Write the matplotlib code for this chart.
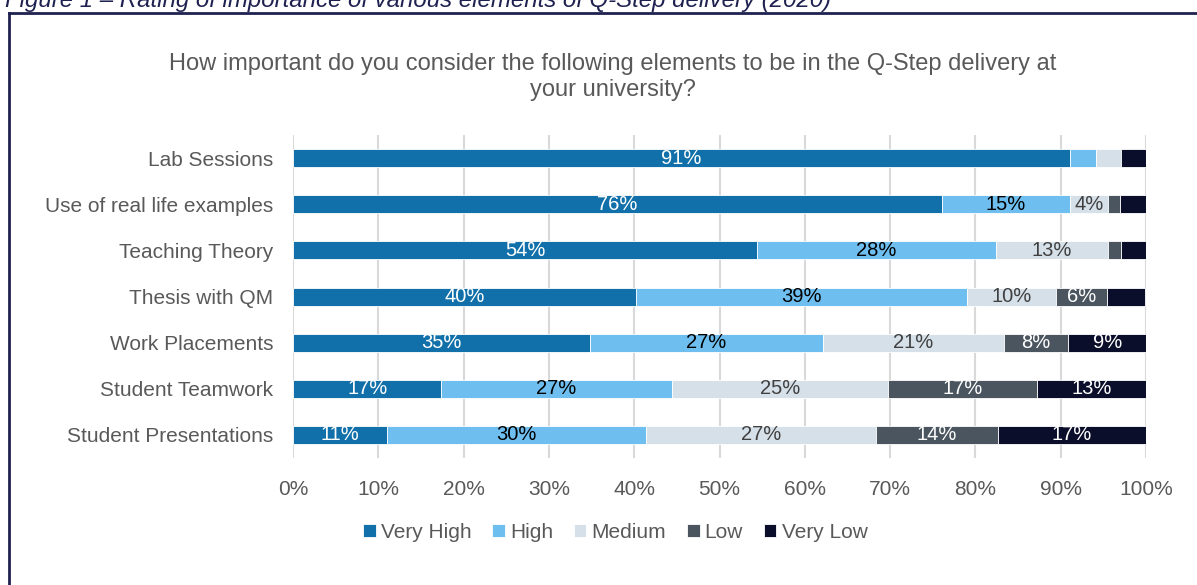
import matplotlib
matplotlib.use('Agg')
import matplotlib.pyplot as plt
from matplotlib.lines import Line2D
from matplotlib.ticker import FuncFormatter

plt.rcParams['font.family'] = ['Liberation Sans', 'DejaVu Sans']

# Data (percent of respondents)
elements = ['Lab Sessions', 'Use of real life examples', 'Teaching Theory',
            'Thesis with QM', 'Work Placements', 'Student Teamwork',
            'Student Presentations']
levels = ['Very High', 'High', 'Medium', 'Low', 'Very Low']
very_high = [91.1, 76.1, 54.4, 40.2, 34.8, 17.4, 11.0]
high = [3.0, 15.0, 28.0, 38.8, 27.3, 27.0, 30.4]
medium = [3.0, 4.4, 13.1, 10.4, 21.2, 25.4, 27.0]
low = [0.0, 1.5, 1.6, 6.0, 7.6, 17.4, 14.2]
very_low = [2.9, 3.0, 2.9, 4.5, 9.1, 12.8, 17.4]
# segments that carry no value label in the original
unlabelled = {('Lab Sessions', 'High'), ('Lab Sessions', 'Medium'),
              ('Lab Sessions', 'Very Low'), ('Use of real life examples', 'Low'),
              ('Use of real life examples', 'Very Low'), ('Teaching Theory', 'Low'),
              ('Teaching Theory', 'Very Low'), ('Thesis with QM', 'Very Low')}

series = [very_high, high, medium, low, very_low]
colors = ['#1170AA', '#6EBFF0', '#D6E0E9', '#4A5560', '#0B0E2A']
label_colors = ['white', 'black', '#404040', 'white', 'white']
grey = '#595959'

fig = plt.figure(figsize=(11.97, 5.85), dpi=100)
ax = fig.add_axes([0.2448, 0.217, 0.7126, 0.552])

y = list(range(len(elements)))
left = [0.0] * len(elements)
for vals, name, col, lcol in zip(series, levels, colors, label_colors):
    bars = ax.barh(y, vals, left=left, height=0.39, color=col, label=name,
                   edgecolor='white', linewidth=0.6, zorder=3)
    for i, (bar, v) in enumerate(zip(bars, vals)):
        if v <= 0 or (elements[i], name) in unlabelled:
            continue
        ax.text(bar.get_x() + bar.get_width() / 2, bar.get_y() + bar.get_height() / 2,
                f'{round(v):.0f}%', ha='center', va='center', fontsize=14.5,
                color=lcol, zorder=4)
    left = [a + b for a, b in zip(left, vals)]

ax.set_xlim(0, 100)
ax.set_ylim(len(elements) - 0.5, -0.5)
ax.set_yticks(y)
ax.set_yticklabels(elements)
ax.set_xticks(range(0, 101, 10))
ax.xaxis.set_major_formatter(FuncFormatter(lambda v, p: f'{v:.0f}%'))
ax.tick_params(axis='both', length=0, labelsize=15, colors=grey)
ax.tick_params(axis='x', pad=16)
ax.tick_params(axis='y', pad=14)
for s in ax.spines.values():
    s.set_visible(False)
ax.xaxis.grid(True, color='#D9D9D9', linewidth=1.5, zorder=0)
ax.set_axisbelow(True)

fig.text(0.512, 1 - 77 / 585, 'How important do you consider the following elements to be in the Q-Step delivery at\nyour university?',
         ha='center', va='center', fontsize=17, color=grey, linespacing=1.2)

leg = fig.legend(loc='center', bbox_to_anchor=(0.514, 1 - 532 / 585), ncol=5,
                 frameon=False, fontsize=15, handlelength=0.6, handleheight=0.6,
                 handletextpad=0.25, columnspacing=1.0)
for t in leg.get_texts():
    t.set_color(grey)

# outer frame and caption (caption is clipped at the top, as in the source)
navy = '#1F2150'
fig.add_artist(Line2D([9 / 1197, 1.0], [1 - 13 / 585, 1 - 13 / 585], transform=fig.transFigure,
                      color=navy, linewidth=2))
fig.add_artist(Line2D([9 / 1197, 9 / 1197], [1 - 13 / 585, 0], transform=fig.transFigure,
                      color=navy, linewidth=2))
fig.text(5 / 1197, 1 - 7 / 585, 'Figure 1 \u2013 Rating of importance of various elements of Q-Step delivery (2020)',
         ha='left', va='baseline', fontsize=17.3, style='italic', color=navy)

fig.savefig('out.png', dpi=100, facecolor='white')
